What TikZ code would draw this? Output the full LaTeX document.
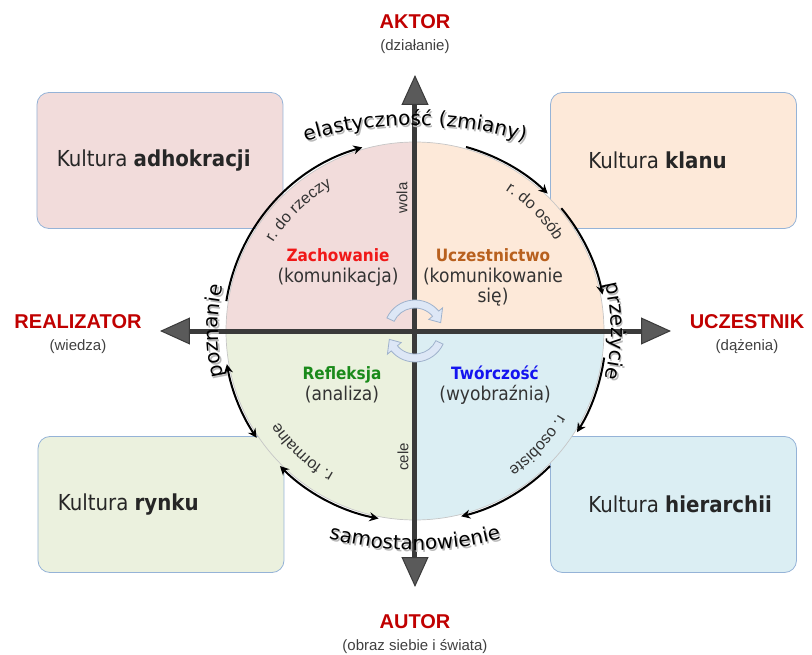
\documentclass[tikz,border=0pt]{standalone}
\usepackage{fontspec}
\usepackage{tikz}
\usetikzlibrary{positioning,arrows.meta,decorations.text}
\newfontfamily\arialfont{Liberation Sans}
\newfontfamily\tahfont[FakeStretch=0.9]{DejaVu Sans}
\newfontfamily\verdfont{DejaVu Sans}
\definecolor{kadho}{HTML}{F2DCDB}
\definecolor{kklan}{HTML}{FDE9D9}
\definecolor{kryn}{HTML}{EBF1DE}
\definecolor{khier}{HTML}{DBEEF3}
\definecolor{ramkakol}{HTML}{95B3D7}
\definecolor{czerw}{HTML}{C00000}
\definecolor{szary}{HTML}{404040}
\definecolor{tekst}{HTML}{333333}
\definecolor{oskol}{HTML}{3A3A3A}
\definecolor{grotkol}{HTML}{5A5A5A}
\definecolor{zachkol}{HTML}{F01818}
\definecolor{uczkol}{HTML}{B8601E}
\definecolor{refkol}{HTML}{1A8A1A}
\definecolor{twkol}{HTML}{1414F0}
\definecolor{cyklfill}{HTML}{DDE7F6}
\definecolor{cykldraw}{HTML}{9FB2CC}

\begin{document}
\begin{tikzpicture}[x=1pt,y=1pt,
  ramka/.style={draw=ramkakol, line width=0.8pt, rounded corners=12pt, minimum width=246pt, minimum height=136pt},
  kultura/.style={font=\tahfont\fontsize{22}{26}\selectfont, text=black!85, inner sep=0pt},
  tytul/.style={font=\arialfont\bfseries\fontsize{20}{24}\selectfont, text=czerw, inner sep=0pt},
  podtytul/.style={font=\arialfont\fontsize{15}{18}\selectfont, text=szary, inner sep=0pt},
  nazwa/.style={font=\tahfont\bfseries\fontsize{17}{20}\selectfont, inner sep=0pt, text height=13pt, text depth=4pt},
  opis/.style={font=\tahfont\fontsize{19}{22}\selectfont, text=tekst, inner sep=0pt, text height=14pt, text depth=4.5pt},
  maly/.style={font=\arialfont\fontsize{15}{18}\selectfont, text=tekst, inner sep=0pt},
  os/.style={line width=5pt, draw=oskol, {Triangle[length=30pt,width=27pt,fill=grotkol,line width=1pt]}-{Triangle[length=30pt,width=27pt,fill=grotkol,line width=1pt]}},
  strzalka/.style={line width=2pt, -{Stealth[length=9pt,width=9pt]}},
  strzalka2/.style={line width=2pt, {Stealth[length=9pt,width=9pt]}-{Stealth[length=9pt,width=9pt]}},
  napis/.style={decorate, decoration={text along path, text align=center, text={|\verdfont\fontsize{20}{24}\selectfont|#1}}},
  cien/.style={shift={(1.5,-2)}, decoration={text color=gray!55}},
  luczek/.style={decorate, decoration={text along path, text align=center, text={|\arialfont\fontsize{16}{18}\selectfont\color{tekst}|#1}}},
  cykl/.style={fill=cyklfill, draw=cykldraw, line width=0.8pt}]
\useasboundingbox (-415,-323) rectangle (397,331);

% ramki kultur
\node[ramka, fill=kadho] (adho) at (-255,170.5) {};
\node[ramka, fill=kklan] (klan) at (258.5,170.5) {};
\node[ramka, fill=kryn] (ryn) at (-254,-173.5) {};
\node[ramka, fill=khier] (hier) at (258.5,-173.5) {};
\node[kultura, right=20pt of adho.west] (tadho) {Kultura \textbf{adhokracji}};
\node[kultura, right=38pt of klan.west] (tklan) {Kultura \textbf{klanu}};
\node[kultura, right=20pt of ryn.west] (tryn) {Kultura \textbf{rynku}};
\node[kultura, right=38pt of hier.west] (thier) {Kultura \textbf{hierarchii}};

% cwiartki kola
\foreach \kat/\kol in {0/kklan, 90/kadho, 180/kryn, 270/khier}
  \fill[\kol] (0,0) -- (\kat:189pt) arc[start angle=\kat, delta angle=90, radius=189pt] -- cycle;
\node[circle, draw=gray!45, line width=0.7pt, minimum size=378pt, inner sep=0pt] (kolo) at (0,0) {};

% osie
\coordinate (gora) at (0,256);
\coordinate (dol) at (0,-256);
\coordinate (lewo) at (-255,0);
\coordinate (prawo) at (256,0);
\draw[os] (dol) -- (gora);
\draw[os] (lewo) -- (prawo);

% strzalki na obwodzie
\draw[strzalka] (171:191pt) arc[start angle=171, end angle=106, radius=191pt];
\draw[strzalka] (74.5:191pt) arc[start angle=74.5, end angle=46, radius=191pt];
\draw[strzalka] (40:191pt) arc[start angle=40, end angle=11, radius=191pt];
\draw[strzalka] (-8:191pt) arc[start angle=-8, end angle=-32, radius=191pt];
\draw[strzalka] (-45:191pt) arc[start angle=-45, end angle=-76, radius=191pt];
\draw[strzalka2] (190:191pt) arc[start angle=190, end angle=214, radius=191pt];
\draw[strzalka2] (225:191pt) arc[start angle=225, end angle=259, radius=191pt];

% cykl w srodku
\foreach \obr in {0,180}
  \filldraw[cykl, rotate=\obr] (155:31pt) arc[start angle=155, end angle=40, radius=31pt]
    -- (40:36pt) -- (18:27pt) -- (40:18pt) -- (40:23pt)
    arc[start angle=40, end angle=155, radius=23pt] -- cycle;

% napisy na luku
\path[napis={elastyczność (zmiany)}, cien] ([shift={(0,-170)}]130:376pt) arc[start angle=130, end angle=50, radius=376pt];
\path[napis={elastyczność (zmiany)}] ([shift={(0,-170)}]130:376pt) arc[start angle=130, end angle=50, radius=376pt];
\path[napis={samostanowienie}, cien] ([shift={(0,117)}]240:336pt) arc[start angle=240, end angle=300, radius=336pt];
\path[napis={samostanowienie}] ([shift={(0,117)}]240:336pt) arc[start angle=240, end angle=300, radius=336pt];
\path[napis={przeżycie}, cien] (45:196pt) arc[start angle=45, end angle=-45, radius=196pt];
\path[napis={przeżycie}] (45:196pt) arc[start angle=45, end angle=-45, radius=196pt];
\path[napis={poznanie}, cien] (225:197pt) arc[start angle=225, end angle=135, radius=197pt];
\path[napis={poznanie}] (225:197pt) arc[start angle=225, end angle=135, radius=197pt];

\path[luczek={r. do rzeczy}] (164:167pt) arc[start angle=164, end angle=104, radius=167pt];
\path[luczek={r. do osób}] (75:167pt) arc[start angle=75, end angle=15, radius=167pt];
\path[luczek={r. formalne}] (257:164pt) arc[start angle=257, end angle=197, radius=164pt];
\path[luczek={r. osobiste}] (-13:166pt) arc[start angle=-13, end angle=-73, radius=166pt];
\node[maly, rotate=90] (wola) at (-13,133) {wola};
\node[maly, rotate=90] (cele) at (-12,-126) {cele};

% cwiartki - opisy
\node[nazwa, text=zachkol] (zach) at (-77,74) {Zachowanie};
\node[opis, below=3pt of zach] (komun) {(komunikacja)};
\node[nazwa, text=uczkol] (ucz) at (78,74) {Uczestnictwo};
\node[opis, below=3pt of ucz] (komunsie) {(komunikowanie};
\node[opis, below=1pt of komunsie] (sie) {się)};
\node[nazwa, text=refkol] (ref) at (-73,-44) {Refleksja};
\node[opis, below=3pt of ref] (anal) {(analiza)};
\node[nazwa, text=twkol] (tw) at (80,-44) {Twórczość};
\node[opis, below=3pt of tw] (wyobr) {(wyobraźnia)};

% bieguny
\node[tytul] (aktor) at (0,309) {AKTOR};
\node[podtytul, below=10pt of aktor] (dzialanie) {(działanie)};
\node[tytul] (autor) at (0,-291) {AUTOR};
\node[podtytul, below=10pt of autor] (obraz) {(obraz siebie i świata)};
\node[tytul] (realizator) at (-337,9) {REALIZATOR};
\node[podtytul, below=10pt of realizator] (wiedza) {(wiedza)};
\node[tytul] (uczestnik) at (332,9) {UCZESTNIK};
\node[podtytul, below=10pt of uczestnik] (dazenia) {(dążenia)};
\end{tikzpicture}
\end{document}
